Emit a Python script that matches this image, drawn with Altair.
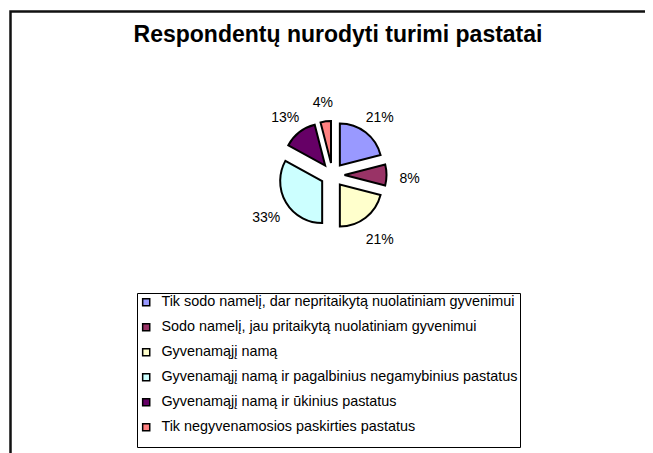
import altair as alt
import pandas as pd

title_text = "Respondentų nurodyti turimi pastatai"
categories = [
    "Tik sodo namelį, dar nepritaikytą nuolatiniam gyvenimui",
    "Sodo namelį, jau pritaikytą nuolatiniam gyvenimui",
    " Gyvenamąjį namą",
    "Gyvenamąjį namą ir pagalbinius negamybinius pastatus",
    "Gyvenamąjį namą ir ūkinius pastatus",
    "Tik negyvenamosios paskirties pastatus",
]
values = [21, 8, 21, 33, 13, 4]
colors = ["#9999FF", "#993366", "#FFFFCC", "#CCFFFF", "#660066", "#FF8080"]

W, H = 637, 445
CX, CY = 324.5, 167.0
R = 42
EXPLODE = 12
LABEL_R = 77
FONT = "Liberation Sans"

df = pd.DataFrame({"category": categories, "value": values, "order": list(range(len(values)))})

base = alt.Chart(df).transform_joinaggregate(
    total="sum(value)"
).transform_window(
    cum="sum(value)", sort=[alt.SortField("order")], frame=[None, 0]
).transform_calculate(
    t0="(datum.cum - datum.value) / datum.total * 2 * PI",
    t1="datum.cum / datum.total * 2 * PI",
).transform_calculate(
    mid="(datum.t0 + datum.t1) / 2",
).transform_calculate(
    px=f"{CX} + {EXPLODE} * sin(datum.mid)",
    py=f"{CY} - {EXPLODE} * cos(datum.mid)",
    lx=f"{CX} + {LABEL_R} * sin(datum.mid)",
    ly=f"{CY} + 4 - {LABEL_R} * cos(datum.mid)",
    pct="format(datum.value / datum.total, '.0%')",
)

pie = base.mark_arc(outerRadius=R, stroke="black", strokeWidth=2, opacity=1).encode(
    theta=alt.Theta("t0:Q", scale=None),
    theta2="t1:Q",
    x=alt.X("px:Q", scale=None),
    y=alt.Y("py:Q", scale=None),
    color=alt.Color(
        "category:N",
        scale=alt.Scale(domain=categories, range=colors),
        sort=categories,
        legend=alt.Legend(
            title=" ",
            titleOrient="bottom",
            titleFontSize=11,
            titlePadding=0,
            orient="none",
            legendX=129,
            legendY=285,
            symbolType="square",
            symbolSize=50,
            symbolStrokeColor="black",
            symbolStrokeWidth=1.5,
            symbolOpacity=1,
            labelFont=FONT,
            labelFontSize=14.4,
            labelColor="black",
            labelOffset=8,
            labelLimit=500,
            rowPadding=10,
            padding=2,
            strokeColor="black",
            fillColor="white",
        ),
    ),
)

labels = base.mark_text(font=FONT, fontSize=14, color="black", align="center", baseline="middle").encode(
    x=alt.X("lx:Q", scale=None),
    y=alt.Y("ly:Q", scale=None),
    text="pct:N",
)

title = alt.Chart(pd.DataFrame({"t": [title_text]})).mark_text(
    font=FONT, fontSize=23, fontWeight="bold", color="black", align="center", baseline="alphabetic"
).encode(x=alt.value(330), y=alt.value(34), text="t:N")

frame = alt.Chart(pd.DataFrame({"a": [0]})).mark_rect(
    filled=False, stroke="#111111", strokeWidth=2.5
).encode(
    x=alt.value(2.5), x2=alt.value(W + 30), y=alt.value(3.5), y2=alt.value(H + 30)
)

chart = alt.layer(frame, title, pie, labels).properties(
    width=W, height=H, padding=0,
    autosize=alt.AutoSizeParams(type="fit", contains="padding"),
).configure_view(stroke=None)

chart.save("out.html", embed_options={"renderer": "svg", "actions": False})
